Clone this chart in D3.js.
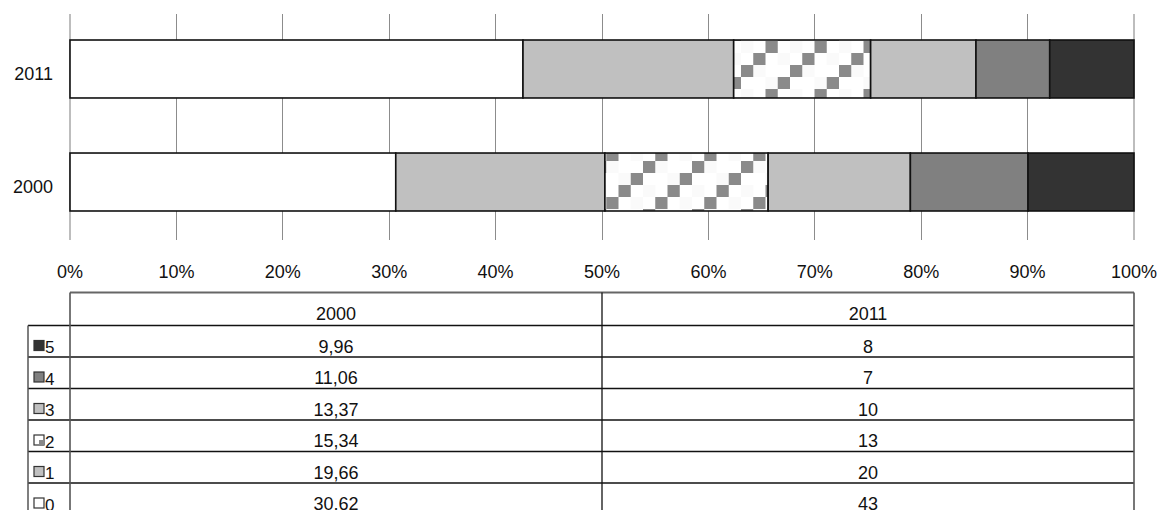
<!DOCTYPE html>
<html>
<head>
<meta charset="utf-8">
<script src="https://cdn.jsdelivr.net/npm/d3@7"></script>
<style>
  html, body { margin: 0; padding: 0; background: #fff; }
  svg { display: block; font-family: "Liberation Sans", Arial, Helvetica, sans-serif; }
</style>
</head>
<body>
<svg id="chart" width="1160" height="510"></svg>
<script>
// ---- data ----
const categories = ["2011", "2000"];          // top to bottom
const seriesNames = ["0", "1", "2", "3", "4", "5"];
const values2000 = [30.62, 19.66, 15.34, 13.37, 11.06, 9.96];
const values2011 = [43, 20, 13, 10, 7, 8];
const tickValues = [0, 10, 20, 30, 40, 50, 60, 70, 80, 90, 100];
const tableColumns = ["2000", "2011"];

const valuesByCat = { "2000": values2000, "2011": values2011 };
const fills = ["#ffffff", "#c0c0c0", "url(#pat2)", "#c0c0c0", "#808080", "#333333"];

const svg = d3.select("#chart");

// pattern for series "2"
const defs = svg.append("defs");
const pat = defs.append("pattern")
  .attr("id", "pat2")
  .attr("patternUnits", "userSpaceOnUse")
  .attr("width", 49).attr("height", 48)
  .attr("patternTransform", "translate(6,41)");
pat.append("rect").attr("width", 49).attr("height", 48).attr("fill", "#ffffff");
// very faint background squares
[[0,0],[1,2],[3,1],[2,3]].forEach(([c, r]) =>
  pat.append("rect").attr("x", c * 12.25).attr("y", r * 12).attr("width", 12.25).attr("height", 12).attr("fill", "#fafafa"));
[[2,0],[1,1],[0,2],[3,3]].forEach(([c, r]) =>
  pat.append("rect").attr("x", c * 12.25).attr("y", r * 12).attr("width", 12.25).attr("height", 12).attr("fill", "#8a8a8a"));

// scales
const x = d3.scaleLinear().domain([0, 100]).range([70, 1134]);
const y = d3.scaleBand().domain(categories).range([12.5, 238.5]).paddingInner(0.487).paddingOuter(0.2434);

// gridlines
svg.append("g").selectAll("line")
  .data(tickValues)
  .join("line")
  .attr("x1", d => x(d)).attr("x2", d => x(d))
  .attr("y1", 14).attr("y2", 240)
  .attr("stroke", d => (d === 0 || d === 100) ? "#bdbdbd" : "#8c8c8c")
  .attr("stroke-width", d => (d === 0 || d === 100) ? 1.6 : 1)
  .attr("shape-rendering", "crispEdges");

// bars (100% stacked)
categories.forEach(cat => {
  const vals = valuesByCat[cat];
  const total = d3.sum(vals);
  let acc = 0;
  const segs = vals.map((v, i) => {
    const s = { i, x0: acc / total * 100, x1: (acc + v) / total * 100 };
    acc += v;
    return s;
  });
  svg.append("g").selectAll("rect")
    .data(segs)
    .join("rect")
    .attr("x", d => x(d.x0))
    .attr("y", y(cat))
    .attr("width", d => x(d.x1) - x(d.x0))
    .attr("height", y.bandwidth())
    .attr("fill", d => fills[d.i])
    .attr("stroke", "#111")
    .attr("stroke-width", 1.6);
});

// category labels
svg.append("g").selectAll("text")
  .data(categories)
  .join("text")
  .attr("x", 53)
  .attr("y", d => y(d) + y.bandwidth() / 2 + 11)
  .attr("text-anchor", "end")
  .attr("font-size", 18)
  .attr("fill", "#111")
  .text(d => d);

// x tick labels
svg.append("g").selectAll("text")
  .data(tickValues)
  .join("text")
  .attr("x", d => x(d))
  .attr("y", 278)
  .attr("text-anchor", "middle")
  .attr("font-size", 18)
  .attr("fill", "#111")
  .text(d => d + "%");

// ---- data table ----
const tableTop = 292.5, headerBottom = 325.5, rowH = 31.5;
const rowsOrder = seriesNames.slice().reverse(); // 5..0
const colX = [70, 602, 1134];
const legendLeft = 28;
const fmt = v => String(v).replace(".", ",");
const t = svg.append("g");

// horizontal lines
t.append("line").attr("x1", colX[0]).attr("x2", colX[2]).attr("y1", tableTop).attr("y2", tableTop)
  .attr("stroke", "#666").attr("stroke-width", 2);
rowsOrder.forEach((s, k) => {
  const yy = headerBottom + k * rowH;
  t.append("line").attr("x1", legendLeft).attr("x2", colX[2]).attr("y1", yy).attr("y2", yy)
    .attr("stroke", "#111").attr("stroke-width", 1.3);
});
t.append("line").attr("x1", legendLeft).attr("x2", colX[2])
  .attr("y1", headerBottom + rowsOrder.length * rowH).attr("y2", headerBottom + rowsOrder.length * rowH)
  .attr("stroke", "#111").attr("stroke-width", 1.3);
// vertical lines
t.append("line").attr("x1", legendLeft).attr("x2", legendLeft).attr("y1", headerBottom).attr("y2", 515)
  .attr("stroke", "#555").attr("stroke-width", 1.5);
colX.forEach((cx, i) => {
  t.append("line").attr("x1", cx).attr("x2", cx).attr("y1", tableTop).attr("y2", 515)
    .attr("stroke", i === 1 ? "#111" : "#555").attr("stroke-width", i === 1 ? 1.3 : 1.6);
});

// header
tableColumns.forEach((c, i) => {
  t.append("text").attr("x", (colX[i] + colX[i + 1]) / 2).attr("y", 320)
    .attr("text-anchor", "middle").attr("font-size", 18).attr("fill", "#111").text(c);
});

// rows
rowsOrder.forEach((s, k) => {
  const si = seriesNames.indexOf(s);
  const base = headerBottom + (k + 1) * rowH - 4.5;
  tableColumns.forEach((c, i) => {
    t.append("text").attr("x", (colX[i] + colX[i + 1]) / 2).attr("y", base)
      .attr("text-anchor", "middle").attr("font-size", 18).attr("fill", "#111")
      .text(fmt(valuesByCat[c][si]));
  });
  // legend key
  const ky = base - 12;
  if (s === "2") {
    t.append("rect").attr("x", 34).attr("y", ky).attr("width", 10).attr("height", 10)
      .attr("fill", "#fff").attr("stroke", "#333").attr("stroke-width", 1.2);
    t.append("rect").attr("x", 39).attr("y", ky + 5).attr("width", 5).attr("height", 5).attr("fill", "#888");
  } else {
    t.append("rect").attr("x", 34).attr("y", ky).attr("width", 10).attr("height", 10)
      .attr("fill", fills[si]).attr("stroke", "#333").attr("stroke-width", 1.2);
  }
  t.append("text").attr("x", 45).attr("y", base + 0.5).attr("font-size", 17).attr("fill", "#111").text(s);
});
</script>
</body>
</html>
